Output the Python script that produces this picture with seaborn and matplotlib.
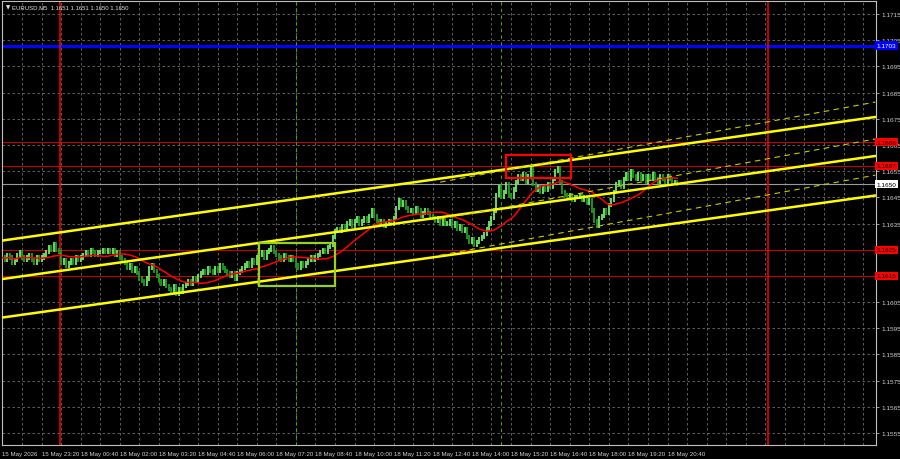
import numpy as np
import pandas as pd
import matplotlib
matplotlib.use("Agg")
import matplotlib.pyplot as plt
from matplotlib.patches import Rectangle
import seaborn as sns

# EURUSD M5 closes, one per bar: 15 May 22:00 ... 18 May 21:00
closes = [
    1.1622, 1.1621, 1.1623, 1.1622, 1.1620, 1.1621, 1.1623, 1.1624, 1.1622, 1.1621,
    1.1622, 1.1623, 1.1621, 1.1620, 1.1622, 1.1621, 1.1622, 1.1623,
    1.1624, 1.1626, 1.1625, 1.1627, 1.1625, 1.1624,
    1.1620, 1.1621, 1.1619, 1.1620, 1.1621, 1.1620, 1.1622, 1.1621,
    1.1622, 1.1623, 1.1624, 1.1623, 1.1625, 1.1624, 1.1623, 1.1624,
    1.1624, 1.1625, 1.1624, 1.1625, 1.1624, 1.1625, 1.1623, 1.1624,
    1.1622, 1.1621, 1.1620, 1.1618, 1.1619, 1.1617, 1.1618, 1.1616, 1.1614,
    1.1613, 1.1612, 1.1614, 1.1618, 1.1619, 1.1617, 1.1615, 1.1613,
    1.1612, 1.1613, 1.1611, 1.1610, 1.1609, 1.1611, 1.1608, 1.1610, 1.1609, 1.1611,
    1.1612, 1.1613, 1.1612, 1.1614, 1.1613, 1.1615,
    1.1616, 1.1617, 1.1616, 1.1618, 1.1617, 1.1616,
    1.1618, 1.1617, 1.1619, 1.1618, 1.1617, 1.1616,
    1.1615, 1.1616, 1.1614, 1.1616, 1.1617, 1.1618,
    1.1619, 1.1620, 1.1619, 1.1621, 1.1620, 1.1622,
    1.1623, 1.1624, 1.1622, 1.1624, 1.1625, 1.1626, 1.1624,
    1.1623, 1.1622, 1.1621, 1.1623, 1.1622, 1.1621, 1.1622, 1.1621,
    1.1619, 1.1618, 1.1620, 1.1619,
    1.1620, 1.1621, 1.1622, 1.1621, 1.1622, 1.1623,
    1.1624, 1.1625, 1.1624, 1.1626, 1.1627,
    1.1630, 1.1632, 1.1633, 1.1632, 1.1634, 1.1633,
    1.1635, 1.1636, 1.1634, 1.1636, 1.1637, 1.1635, 1.1636, 1.1637, 1.1636, 1.1638,
    1.1640, 1.1638,
    1.1636, 1.1635, 1.1636, 1.1634, 1.1635, 1.1636, 1.1635, 1.1637,
    1.1641, 1.1644, 1.1642, 1.1643, 1.1641, 1.1640,
    1.1640, 1.1639, 1.1641, 1.1640, 1.1638, 1.1639, 1.1640, 1.1639,
    1.1638, 1.1637, 1.1636, 1.1637, 1.1635, 1.1636, 1.1635,
    1.1635, 1.1636, 1.1634, 1.1635, 1.1633, 1.1634, 1.1632, 1.1633,
    1.1630, 1.1628, 1.1629, 1.1627, 1.1628, 1.1629, 1.1630, 1.1631,
    1.1633, 1.1635, 1.1637, 1.1640,
    1.1646, 1.1649, 1.1645, 1.1647, 1.1650, 1.1646,
    1.1645, 1.1648, 1.1651, 1.1653, 1.1652, 1.1654, 1.1651, 1.1653, 1.1656,
    1.1650, 1.1648, 1.1649, 1.1647, 1.1649, 1.1648, 1.1650, 1.1649,
    1.1652, 1.1655, 1.1656, 1.1651,
    1.1647, 1.1646, 1.1645, 1.1646, 1.1644, 1.1645,
    1.1645, 1.1646, 1.1644, 1.1645, 1.1643, 1.1644,
    1.1640, 1.1636, 1.1634, 1.1637,
    1.1638, 1.1640, 1.1639, 1.1642, 1.1644,
    1.1647, 1.1650, 1.1651, 1.1649, 1.1652,
    1.1654, 1.1652, 1.1655, 1.1653, 1.1652, 1.1654,
    1.1652, 1.1653, 1.1651, 1.1653, 1.1652, 1.1654, 1.1652, 1.1651, 1.1653,
    1.1652, 1.1651, 1.1653, 1.1652, 1.1651, 1.1651, 1.1650,
]
first_open = 1.1622

x_labels = ["15 May 2026", "15 May 23:20", "18 May 00:40", "18 May 02:00",
            "18 May 03:20", "18 May 04:40", "18 May 06:00", "18 May 07:20",
            "18 May 08:40", "18 May 10:00", "18 May 11:20", "18 May 12:40",
            "18 May 14:00", "18 May 15:20", "18 May 16:40", "18 May 18:00",
            "18 May 19:20", "18 May 20:40"]
y_ticks = [1.1555, 1.1565, 1.1575, 1.1585, 1.1595, 1.1605, 1.1615, 1.1625,
           1.1635, 1.1645, 1.1655, 1.1665, 1.1675, 1.1685, 1.1695, 1.1705, 1.1715]

blue_level = 1.1703
red_levels = [1.1666, 1.1657, 1.1625, 1.1615]
last_price = 1.1650
header = "EURUSD,M5  1.1651 1.1651 1.1650 1.1650"

# trend channels as (bar, price) end points
solid_lines = [[(0, 1.16285), (357, 1.16757)],
               [(0, 1.16138), (357, 1.16608)],
               [(0, 1.15991), (357, 1.16457)]]
dashed_lines = [[(179, 1.16508), (357, 1.16814)],
                [(179, 1.16367), (357, 1.16673)],
                [(179, 1.16229), (357, 1.16535)]]
green_box = [(105, 1.16111), (136, 1.16275)]
red_box = [(206, 1.16524), (232.5, 1.16611)]
day_lines = [23.5, 313]
session_lines = [120, 204]

df = pd.DataFrame({"bar": np.arange(len(closes)), "close": closes})
df["open"] = df["close"].shift(1).fillna(first_open)
df["ma"] = df["close"].rolling(20, min_periods=1).mean()

sns.set_style("dark", {"axes.facecolor": "black", "figure.facecolor": "black"})
plt.rcParams["font.family"] = ["Liberation Sans", "DejaVu Sans"]

fig = plt.figure(figsize=(9, 4.6), dpi=100)
ax = fig.add_axes([2 / 900, 14 / 460, 874 / 900, 444 / 460])
ax.set_facecolor("black")

# grid
for b in range(0, 360, 8):
    ax.axvline(b, color="#6e6e6e", lw=0.6, ls=(0, (3, 3)), zorder=0)
for t in y_ticks:
    ax.axhline(t, color="#6e6e6e", lw=0.6, ls=(0, (3, 3)), zorder=0)

# levels
ax.axhline(blue_level, color="#0000ff", lw=2.2, zorder=2)
for lv in red_levels:
    ax.axhline(lv, color="#c00000", lw=0.8, zorder=2)
ax.axhline(last_price, color="#9a9a9a", lw=0.8, zorder=2)
for d in day_lines:
    ax.axvline(d, color="#ff0000", lw=1.1, zorder=2)
for s in session_lines:
    ax.axvline(s, color="#4fa000", lw=0.8, ls=(0, (3, 3)), zorder=2)

# bars
up = df["close"] >= df["open"]
lo = np.minimum(df["open"], df["close"]) - 0.00008
hi = np.maximum(df["open"], df["close"]) + 0.00008
ax.vlines(df["bar"][up], lo[up], hi[up], color="#72ec6a", lw=1.3, zorder=3)
ax.vlines(df["bar"][~up], lo[~up], hi[~up], color="#1f9e1f", lw=1.3, zorder=3)

sns.lineplot(data=df, x="bar", y="ma", color="#ff0000", lw=1.1, ax=ax, zorder=4)

for (x0, y0), (x1, y1) in solid_lines:
    ax.plot([x0, x1], [y0, y1], color="#ffff00", lw=1.8, zorder=5)
for (x0, y0), (x1, y1) in dashed_lines:
    ax.plot([x0, x1], [y0, y1], color="#c8c800", lw=0.8, ls=(0, (5, 4)), zorder=5)

for box, col in [(green_box, "#9ad01e"), (red_box, "#ff0000")]:
    (x0, y0), (x1, y1) = box
    ax.add_patch(Rectangle((x0, y0), x1 - x0, y1 - y0, fill=False,
                           edgecolor=col, lw=1.6, zorder=6))

ax.set_xlim(-0.2, 357.26)
ax.set_ylim(1.15504, 1.17200)

ax.set_xticks(np.arange(0, 16 * len(x_labels), 16))
ax.set_xticklabels(x_labels, ha="left", fontsize=4.4)
ax.set_xticks(np.arange(0, 360, 8), minor=True)
ax.yaxis.tick_right()
ax.set_yticks(y_ticks)
# the red price tags sit over these two scale labels
hidden = {1.1625, 1.1615}
ax.set_yticklabels(["" if t in hidden else f"{t:.4f}" for t in y_ticks], fontsize=4.6)
ax.tick_params(axis="both", colors="#b0b0b0", labelcolor="#d0d0d0",
               length=2.5, width=0.6, pad=1.5)
ax.tick_params(axis="x", which="minor", colors="#b0b0b0", length=2.5, width=0.6)
ax.set_xlabel("")
ax.set_ylabel("")
for sp in ax.spines.values():
    sp.set_color("#c0c0c0")
    sp.set_linewidth(0.8)

# price tags on the right scale
tags = [(blue_level, "#0000ff", "#ffffff"), (last_price, "#ffffff", "#000000")]
tags += [(lv, "#ff0000", "#000000") for lv in red_levels]
for val, bg, fg in tags:
    ax.text(1.001, val, f"{val:.4f}", transform=ax.get_yaxis_transform(),
            fontsize=4.6, color=fg, va="center", ha="left", zorder=10,
            bbox=dict(boxstyle="square,pad=0.25", fc=bg, ec="none"),
            clip_on=False)

ax.text(0.004, 0.988, "\u25bc", transform=ax.transAxes, fontsize=4,
        color="#e0e0e0", va="center", ha="left", family=["DejaVu Sans"])
ax.text(0.012, 0.988, header, transform=ax.transAxes, fontsize=4.3,
        color="#e0e0e0", va="center", ha="left")

fig.savefig("out.png", dpi=100, facecolor="black")
